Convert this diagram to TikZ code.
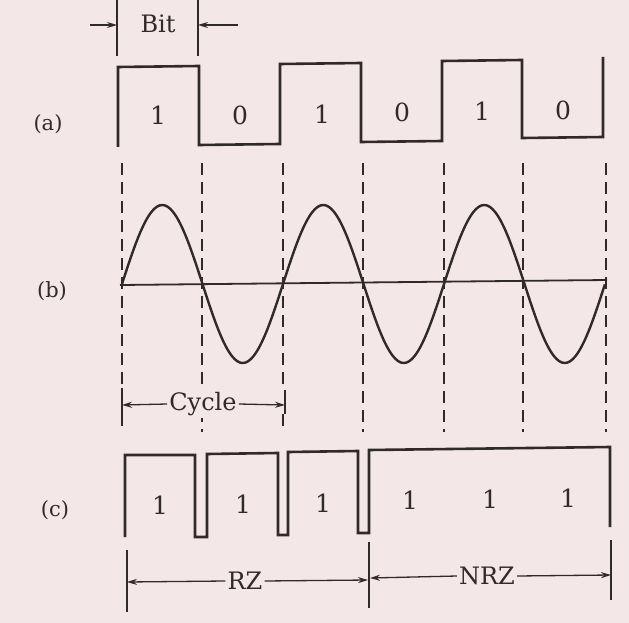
\documentclass[tikz,border=0pt]{standalone}
\usepackage{fontspec}
\setmainfont{DejaVu Serif}
\usetikzlibrary{arrows.meta}
\definecolor{paper}{RGB}{244,231,231}
\definecolor{ink}{RGB}{48,42,42}
\tikzset{
  wave/.style={ink, line width=2.6pt, line join=miter},
  guide/.style={ink, line width=1.7pt, dash pattern=on 12pt off 7pt},
  dim/.style={ink, line width=1.1pt},
  dimarrow/.style={ink, line width=1.3pt, -{Stealth[length=10pt,width=6pt]}},
  digit/.style={ink, font=\fontsize{25}{28}\selectfont, inner sep=0pt},
  word/.style={ink, font=\fontsize{24}{28}\selectfont, inner sep=2pt, fill=paper},
  tag/.style={ink, font=\fontsize{21}{26}\selectfont, inner sep=0pt}
}
\begin{document}
\begin{tikzpicture}[x=1pt,y=-1pt]
\fill[paper] (0,0) rectangle (629,623);
\useasboundingbox (0,0) rectangle (629,623);

% ---------- Bit dimension ----------
\coordinate (bitL) at (117,0);
\coordinate (bitR) at (198,0);
\draw[dim] (bitL) -- (117,56);
\draw[dim] (bitR) -- (198,56);
\coordinate (bitLa) at (90,25);
\coordinate (bitRa) at (238,25);
\draw[dimarrow] (bitLa) -- (117,25);
\draw[dimarrow] (bitRa) -- (198,25);
\node[word, fill=none] (bit) at (158,24) {Bit};

% ---------- (a) NRZ waveform ----------
\node[tag] (ta) at (48,124) {(a)};
\draw[wave] (118,147) -- (118,67) -- (199,66) -- (199,145) -- (280,144) -- (280,64)
  -- (361,63) -- (361,142) -- (442,141) -- (442,61) -- (522,60) -- (522,138)
  -- (603,137) -- (603,57);
\node[digit] (a1) at (158,115) {1};
\node[digit] (a2) at (240,115) {0};
\node[digit] (a3) at (322,114) {1};
\node[digit] (a4) at (402,112) {0};
\node[digit] (a5) at (482,111) {1};
\node[digit] (a6) at (563,110) {0};

% ---------- dashed guides ----------
\foreach \gx/\gt/\gb in {122/163/388, 202/163/432, 283/163/388, 363/163/432, 444/163/432, 523/163/432, 606/163/432}{
  \draw[guide] (\gx,\gt) -- (\gx,\gb);
}
\draw[guide] (122,414) -- (122,432);
\draw[guide] (283,414) -- (283,432);

% ---------- (b) carrier ----------
\node[tag] (tb) at (52,291) {(b)};
\coordinate (axL) at (120,285);
\coordinate (axR) at (607,280);
\draw[ink, line width=1.8pt] (axL) -- (axR);
\draw[wave, line width=2.4pt] plot[domain=0:3, samples=181, smooth]
  ({122+161*\x},{284-79*sin(360*\x)});

% ---------- Cycle dimension ----------
\coordinate (cyL) at (122,405);
\coordinate (cyR) at (285,405);
\draw[dim] (122,388) -- (122,414);
\draw[dim] (285,390) -- (285,414);
\node[word] (cycle) at (203,404) {Cycle};
\draw[dimarrow] (cycle.west) -- (cyL);
\draw[dimarrow] (cycle.east) -- (cyR);

% ---------- (c) RZ / NRZ ----------
\node[tag] (tc) at (55,510) {(c)};
\draw[wave] (125,537) -- (125,455) -- (195,455) -- (195,537) -- (207,537) -- (207,454)
  -- (278,453) -- (278,535) -- (288,535) -- (288,452) -- (358,451) -- (358,533)
  -- (369,533) -- (369,450) -- (610,447) -- (610,527);
\node[digit] (c1) at (160,505) {1};
\node[digit] (c2) at (243,504) {1};
\node[digit] (c3) at (323,503) {1};
\node[digit] (c4) at (410,500) {1};
\node[digit] (c5) at (490,499) {1};
\node[digit] (c6) at (568,498) {1};

% ---------- RZ / NRZ dimension ----------
\coordinate (rzL) at (127,582);
\coordinate (rzR) at (368,580);
\coordinate (nrzL) at (370,578);
\coordinate (nrzR) at (611,575);
\draw[dim] (127,550) -- (127,612);
\draw[dim] (369,542) -- (369,608);
\draw[dim] (611,540) -- (611,600);
\node[word] (rz) at (245,581) {RZ};
\node[word] (nrz) at (487,576) {NRZ};
\draw[dimarrow] (rz.west) -- (rzL);
\draw[dimarrow] (rz.east) -- (rzR);
\draw[dimarrow] (nrz.west) -- (nrzL);
\draw[dimarrow] (nrz.east) -- (nrzR);
\end{tikzpicture}
\end{document}
